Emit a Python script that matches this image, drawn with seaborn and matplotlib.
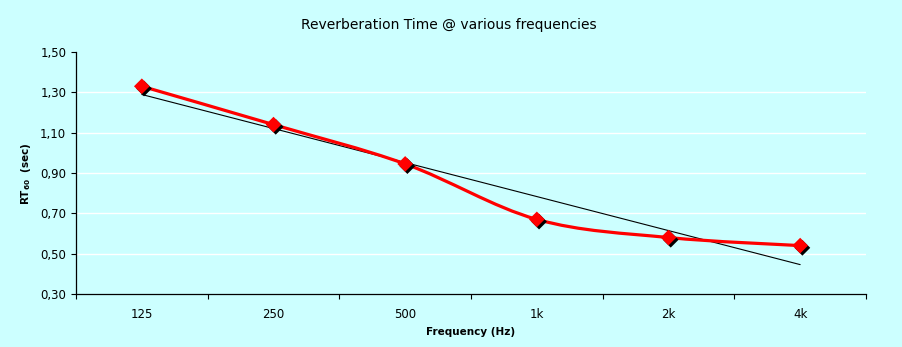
import numpy as np
import matplotlib
matplotlib.use("Agg")
import matplotlib.pyplot as plt
from matplotlib.path import Path
from matplotlib.patches import PathPatch
from matplotlib import patheffects as pe
import pandas as pd
import seaborn as sns

# Octave-band centre frequencies and measured RT60 (seconds)
frequencies = ["125", "250", "500", "1k", "2k", "4k"]
rt60 = [1.33, 1.14, 0.945, 0.67, 0.58, 0.54]
y_ticks = [0.30, 0.50, 0.70, 0.90, 1.10, 1.30, 1.50]

bg = "#CCFFFF"
sns.set_style("white", {"axes.facecolor": bg, "figure.facecolor": bg})
plt.rcParams["font.family"] = ["DejaVu Sans"]

W, H = 902, 347
fig = plt.figure(figsize=(W / 100, H / 100), dpi=100)
ax = fig.add_axes([76 / W, 1 - 294 / H, 790 / W, 242 / H])

pos = np.arange(len(frequencies))
df = pd.DataFrame({"pos": pos, "rt60": rt60})

# white horizontal gridlines
for v in y_ticks[1:-1]:
    ax.axhline(v, color="white", lw=1.0, zorder=1)

# linear trendline over the category index
sns.regplot(data=df, x="pos", y="rt60", scatter=False, ci=None, truncate=True,
            line_kws=dict(color="black", lw=0.8, zorder=2), ax=ax)

# smoothed red series line (Catmull-Rom style Bezier through the points)
pts = df[["pos", "rt60"]].to_numpy(dtype=float)
ext = np.vstack([pts[0], pts, pts[-1]])
verts = [pts[0]]
codes = [Path.MOVETO]
for i in range(len(pts) - 1):
    p0, p1, p2, p3 = ext[i], ext[i + 1], ext[i + 2], ext[i + 3]
    c1 = p1 + (p2 - p0) / 6.0
    c2 = p2 - (p3 - p1) / 6.0
    verts += [c1, c2, p2]
    codes += [Path.CURVE4] * 3
ax.add_patch(PathPatch(Path(verts, codes), facecolor="none", edgecolor="#FF0000",
                       lw=2.3, zorder=3, capstyle="round", joinstyle="round"))

# diamond markers with a dark drop shadow
sns.scatterplot(data=df, x="pos", y="rt60", marker="D", s=64, color="#FF0000",
                edgecolor="#FF0000", linewidth=0, zorder=4, ax=ax, legend=False)
ax.collections[-1].set_path_effects([
    pe.SimplePatchShadow(offset=(1.6, -1.6), shadow_rgbFace="black", alpha=1.0),
    pe.Normal(),
])

ax.set_xlim(-0.5, len(frequencies) - 0.5)
ax.set_ylim(y_ticks[0], y_ticks[-1])

# category boundaries carry the tick marks, labels sit at the centres
ax.set_xticks(np.arange(-0.5, len(frequencies), 1.0))
ax.set_xticklabels([])
ax.set_xticks(pos, minor=True)
ax.set_xticklabels(frequencies, minor=True)
ax.tick_params(axis="x", which="major", direction="out", length=3.5, width=0.8,
               color="black", bottom=True)
ax.tick_params(axis="x", which="minor", length=0, pad=10, labelsize=8.5,
               labelcolor="black")

ax.set_yticks(y_ticks)
ax.set_yticklabels([f"{v:.2f}".replace(".", ",") for v in y_ticks])
ax.tick_params(axis="y", direction="out", length=3.5, width=0.8, color="black",
               left=True, pad=3.5, labelsize=8.5, labelcolor="black")

for side in ["top", "right"]:
    ax.spines[side].set_visible(False)
for side in ["left", "bottom"]:
    ax.spines[side].set_color("black")
    ax.spines[side].set_linewidth(0.9)

ax.set_xlabel("")
ax.set_ylabel("")
fig.text(449 / W, 1 - 25 / H, "Reverberation Time @ various frequencies",
         ha="center", va="center", fontsize=10, color="black")
fig.text(471 / W, 1 - 332 / H, "Frequency (Hz)", ha="center", va="center",
         fontsize=7.5, fontweight="bold", color="black")
fig.text(26 / W, 1 - 174 / H, r"RT$_{\mathbf{60}}$  (sec)", ha="center", va="center",
         rotation=90, fontsize=7.5, fontweight="bold", color="black")

fig.savefig("out.png", dpi=100, facecolor=bg)
